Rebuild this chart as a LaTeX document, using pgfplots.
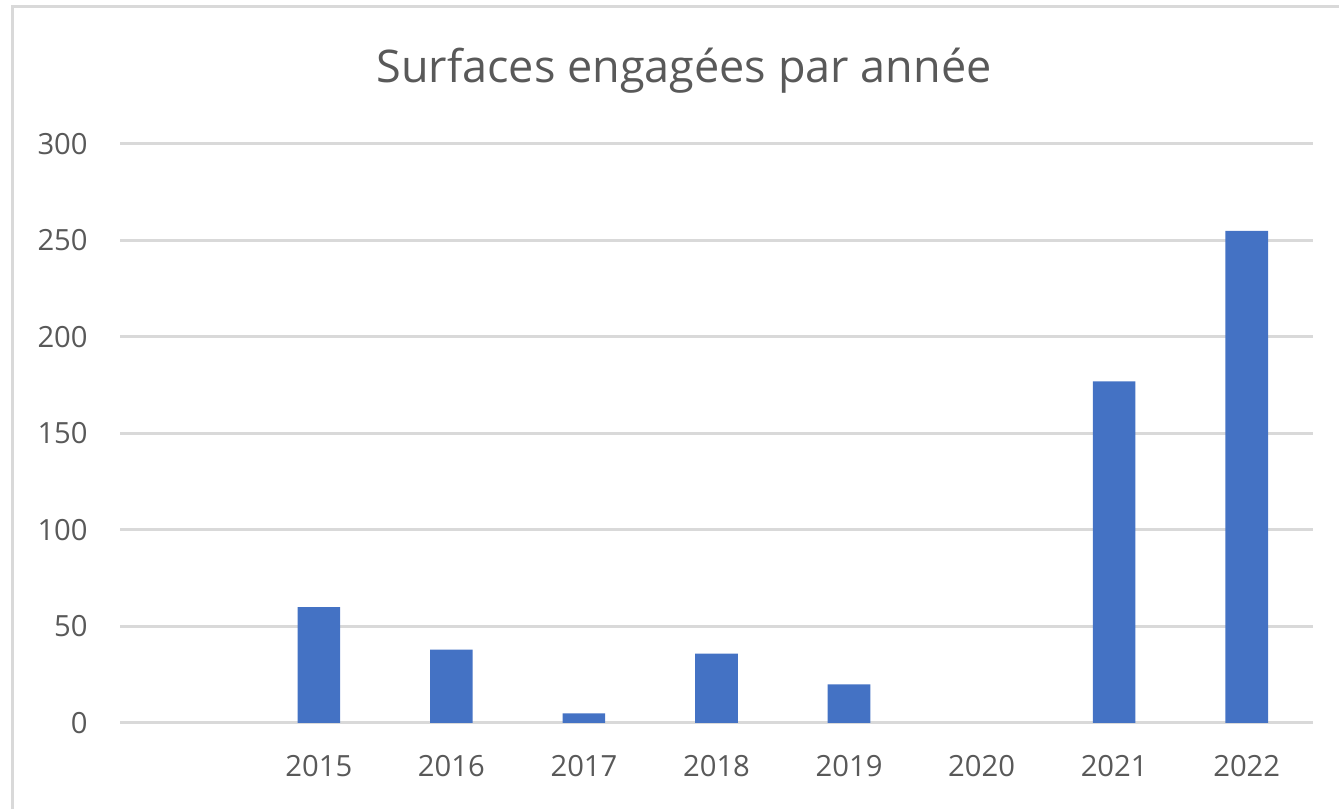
\documentclass[border=0pt]{standalone}
\usepackage{fontspec}
\setmainfont{Open Sans}
\usepackage{pgfplots}
\pgfplotsset{compat=1.18}
\definecolor{txt}{HTML}{595959}
\definecolor{gridc}{HTML}{D9D9D9}
\definecolor{barc}{HTML}{4472C4}
\begin{document}
\begin{tikzpicture}
  % 1 px of the reference = 0.5pt
  \path[use as bounding box] (0,0) rectangle (669.5pt,404.5pt);
  \draw[gridc, line width=1.5pt] (6pt,0) -- (6pt,401pt) -- (669.5pt,401pt);
  \node[anchor=base, text=txt, font=\fontsize{22.5}{26}\selectfont] at (342pt,363pt)
    {Surfaces engagées par année};
  \begin{axis}[
    at={(60pt,43pt)}, anchor=south west,
    scale only axis,
    width=596.5pt, height=289.5pt,
    ymin=0, ymax=300,
    xmin=-0.5, xmax=8.5,
    ytick={0,50,...,300},
    xtick={1,...,8},
    xticklabels={2015,2016,2017,2018,2019,2020,2021,2022},
    axis line style={draw=none},
    major tick length=0pt,
    ymajorgrids, xmajorgrids=false,
    grid style={draw=gridc, line width=1.5pt},
    /pgf/number format/assume math mode=true,
    ticklabel style={font=\fontsize{14.6}{17}\selectfont, text=txt, inner sep=0pt},
    yticklabel style={anchor=east, xshift=-16pt},
    xticklabel style={anchor=north, yshift=-16pt},
    ybar, bar width=21.3pt,
  ]
    % 2020 has the value 0 and draws no bar
    \addplot[fill=barc, draw=none] coordinates {
      (1,60) (2,38) (3,5) (4,36) (5,20) (7,177) (8,255)
    };
  \end{axis}
\end{tikzpicture}
\end{document}
